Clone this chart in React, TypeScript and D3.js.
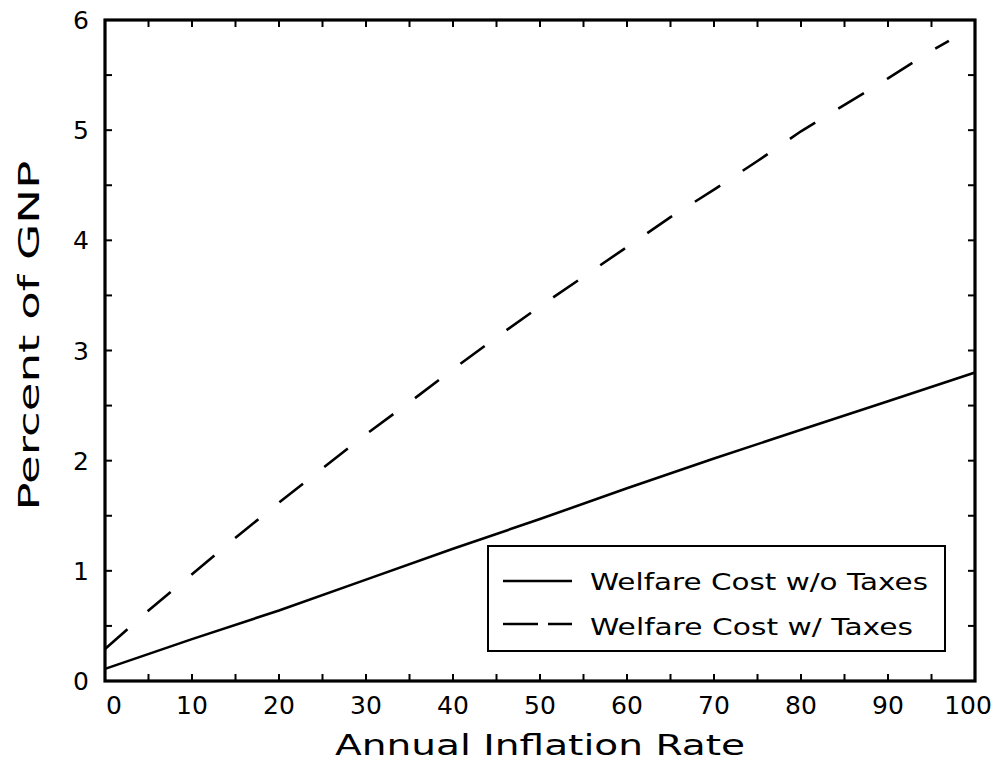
import React from "react";
import * as d3 from "d3";

const solidX = [0, 10, 20, 30, 40, 50, 60, 70, 80, 90, 100];
const solidY = [0.11, 0.38, 0.64, 0.92, 1.2, 1.47, 1.75, 2.02, 2.28, 2.54, 2.8];

const dashedX = [0, 5, 10, 15, 20, 25, 30, 35, 40, 45, 50, 55, 60, 65, 70, 75, 80, 85, 90, 95, 97];
const dashedY = [0.29, 0.64, 0.97, 1.3, 1.62, 1.93, 2.24, 2.53, 2.83, 3.12, 3.4, 3.67, 3.94, 4.21, 4.46, 4.72, 4.99, 5.23, 5.47, 5.72, 5.81];

const xTickLabels = [0, 10, 20, 30, 40, 50, 60, 70, 80, 90, 100];
const yTickLabels = [0, 1, 2, 3, 4, 5, 6];
const xMinorTicks = d3.range(0, 101, 5);
const yMinorTicks = d3.range(0, 6.01, 0.5);

const legendLabels = ["Welfare Cost w/o Taxes", "Welfare Cost w/ Taxes"];
const xTitle = "Annual Inflation Rate";
const yTitle = "Percent of GNP";

const FONT = "'DejaVu Sans', sans-serif";

export default function App() {
  const W = 1008, H = 767;
  const left = 105, right = 975, top = 20, bottom = 681;
  const x = d3.scaleLinear().domain([0, 100]).range([left, right]);
  const y = d3.scaleLinear().domain([0, 6]).range([bottom, top]);

  const line = d3
    .line<[number, number]>()
    .x((d) => x(d[0]))
    .y((d) => y(d[1]));

  const solidPts = solidX.map((v, i) => [v, solidY[i]] as [number, number]);
  const dashedPts = dashedX.map((v, i) => [v, dashedY[i]] as [number, number]);
  const tickLen = 7;

  const legX = 488, legY = 546, legW = 457, legH = 105;

  return (
    <svg
      width={W}
      height={H}
      style={{ position: "absolute", left: 0, top: 0, background: "#fff" }}
      fontFamily={FONT}
    >
      <rect x={0} y={0} width={W} height={H} fill="#fff" />
      {/* data lines */}
      <path d={line(solidPts) || ""} fill="none" stroke="#000" strokeWidth={2.6} />
      <path
        d={line(dashedPts) || ""}
        fill="none"
        stroke="#000"
        strokeWidth={2.6}
        strokeDasharray="30 27"
      />
      {/* ticks */}
      {xMinorTicks.map((t) => (
        <g key={"xt" + t}>
          <line x1={x(t)} x2={x(t)} y1={bottom} y2={bottom - tickLen} stroke="#000" strokeWidth={2} />
          <line x1={x(t)} x2={x(t)} y1={top} y2={top + tickLen} stroke="#000" strokeWidth={2} />
        </g>
      ))}
      {yMinorTicks.map((t) => (
        <g key={"yt" + t}>
          <line x1={left} x2={left + tickLen} y1={y(t)} y2={y(t)} stroke="#000" strokeWidth={2} />
          <line x1={right} x2={right - tickLen} y1={y(t)} y2={y(t)} stroke="#000" strokeWidth={2} />
        </g>
      ))}
      {/* frame */}
      <rect
        x={left}
        y={top}
        width={right - left}
        height={bottom - top}
        fill="none"
        stroke="#000"
        strokeWidth={3.2}
      />
      {/* x tick labels */}
      {xTickLabels.map((t, i) => {
        const off = i === 0 ? 9 : i === xTickLabels.length - 1 ? -7 : 0;
        return (
          <text
            key={"xl" + t}
            x={x(t) + off}
            y={bottom + 33}
            fontSize={25}
            textAnchor="middle"
            fill="#000"
          >
            {t}
          </text>
        );
      })}
      {/* y tick labels */}
      {yTickLabels.map((t) => (
        <text
          key={"yl" + t}
          x={left - 16}
          y={y(t) + 9}
          fontSize={25}
          textAnchor="end"
          fill="#000"
        >
          {t}
        </text>
      ))}
      {/* axis titles */}
      <text
        x={(left + right) / 2}
        y={755}
        fontSize={29}
        textAnchor="middle"
        fill="#000"
        textLength={410}
        lengthAdjust="spacingAndGlyphs"
      >
        {xTitle}
      </text>
      <text
        transform={`translate(39, ${(top + bottom) / 2 - 15}) rotate(-90)`}
        fontSize={29}
        textAnchor="middle"
        fill="#000"
        textLength={350}
        lengthAdjust="spacingAndGlyphs"
      >
        {yTitle}
      </text>
      {/* legend */}
      <rect x={legX} y={legY} width={legW} height={legH} fill="#fff" stroke="#000" strokeWidth={2} />
      <line x1={503} x2={572} y1={581} y2={581} stroke="#000" strokeWidth={2.4} />
      <line
        x1={503}
        x2={572}
        y1={624}
        y2={624}
        stroke="#000"
        strokeWidth={2.4}
        strokeDasharray="35 10"
      />
      <text x={590} y={590} fontSize={23} fill="#000" textLength={338} lengthAdjust="spacingAndGlyphs">
        {legendLabels[0]}
      </text>
      <text x={590} y={635} fontSize={23} fill="#000" textLength={323} lengthAdjust="spacingAndGlyphs">
        {legendLabels[1]}
      </text>
    </svg>
  );
}
